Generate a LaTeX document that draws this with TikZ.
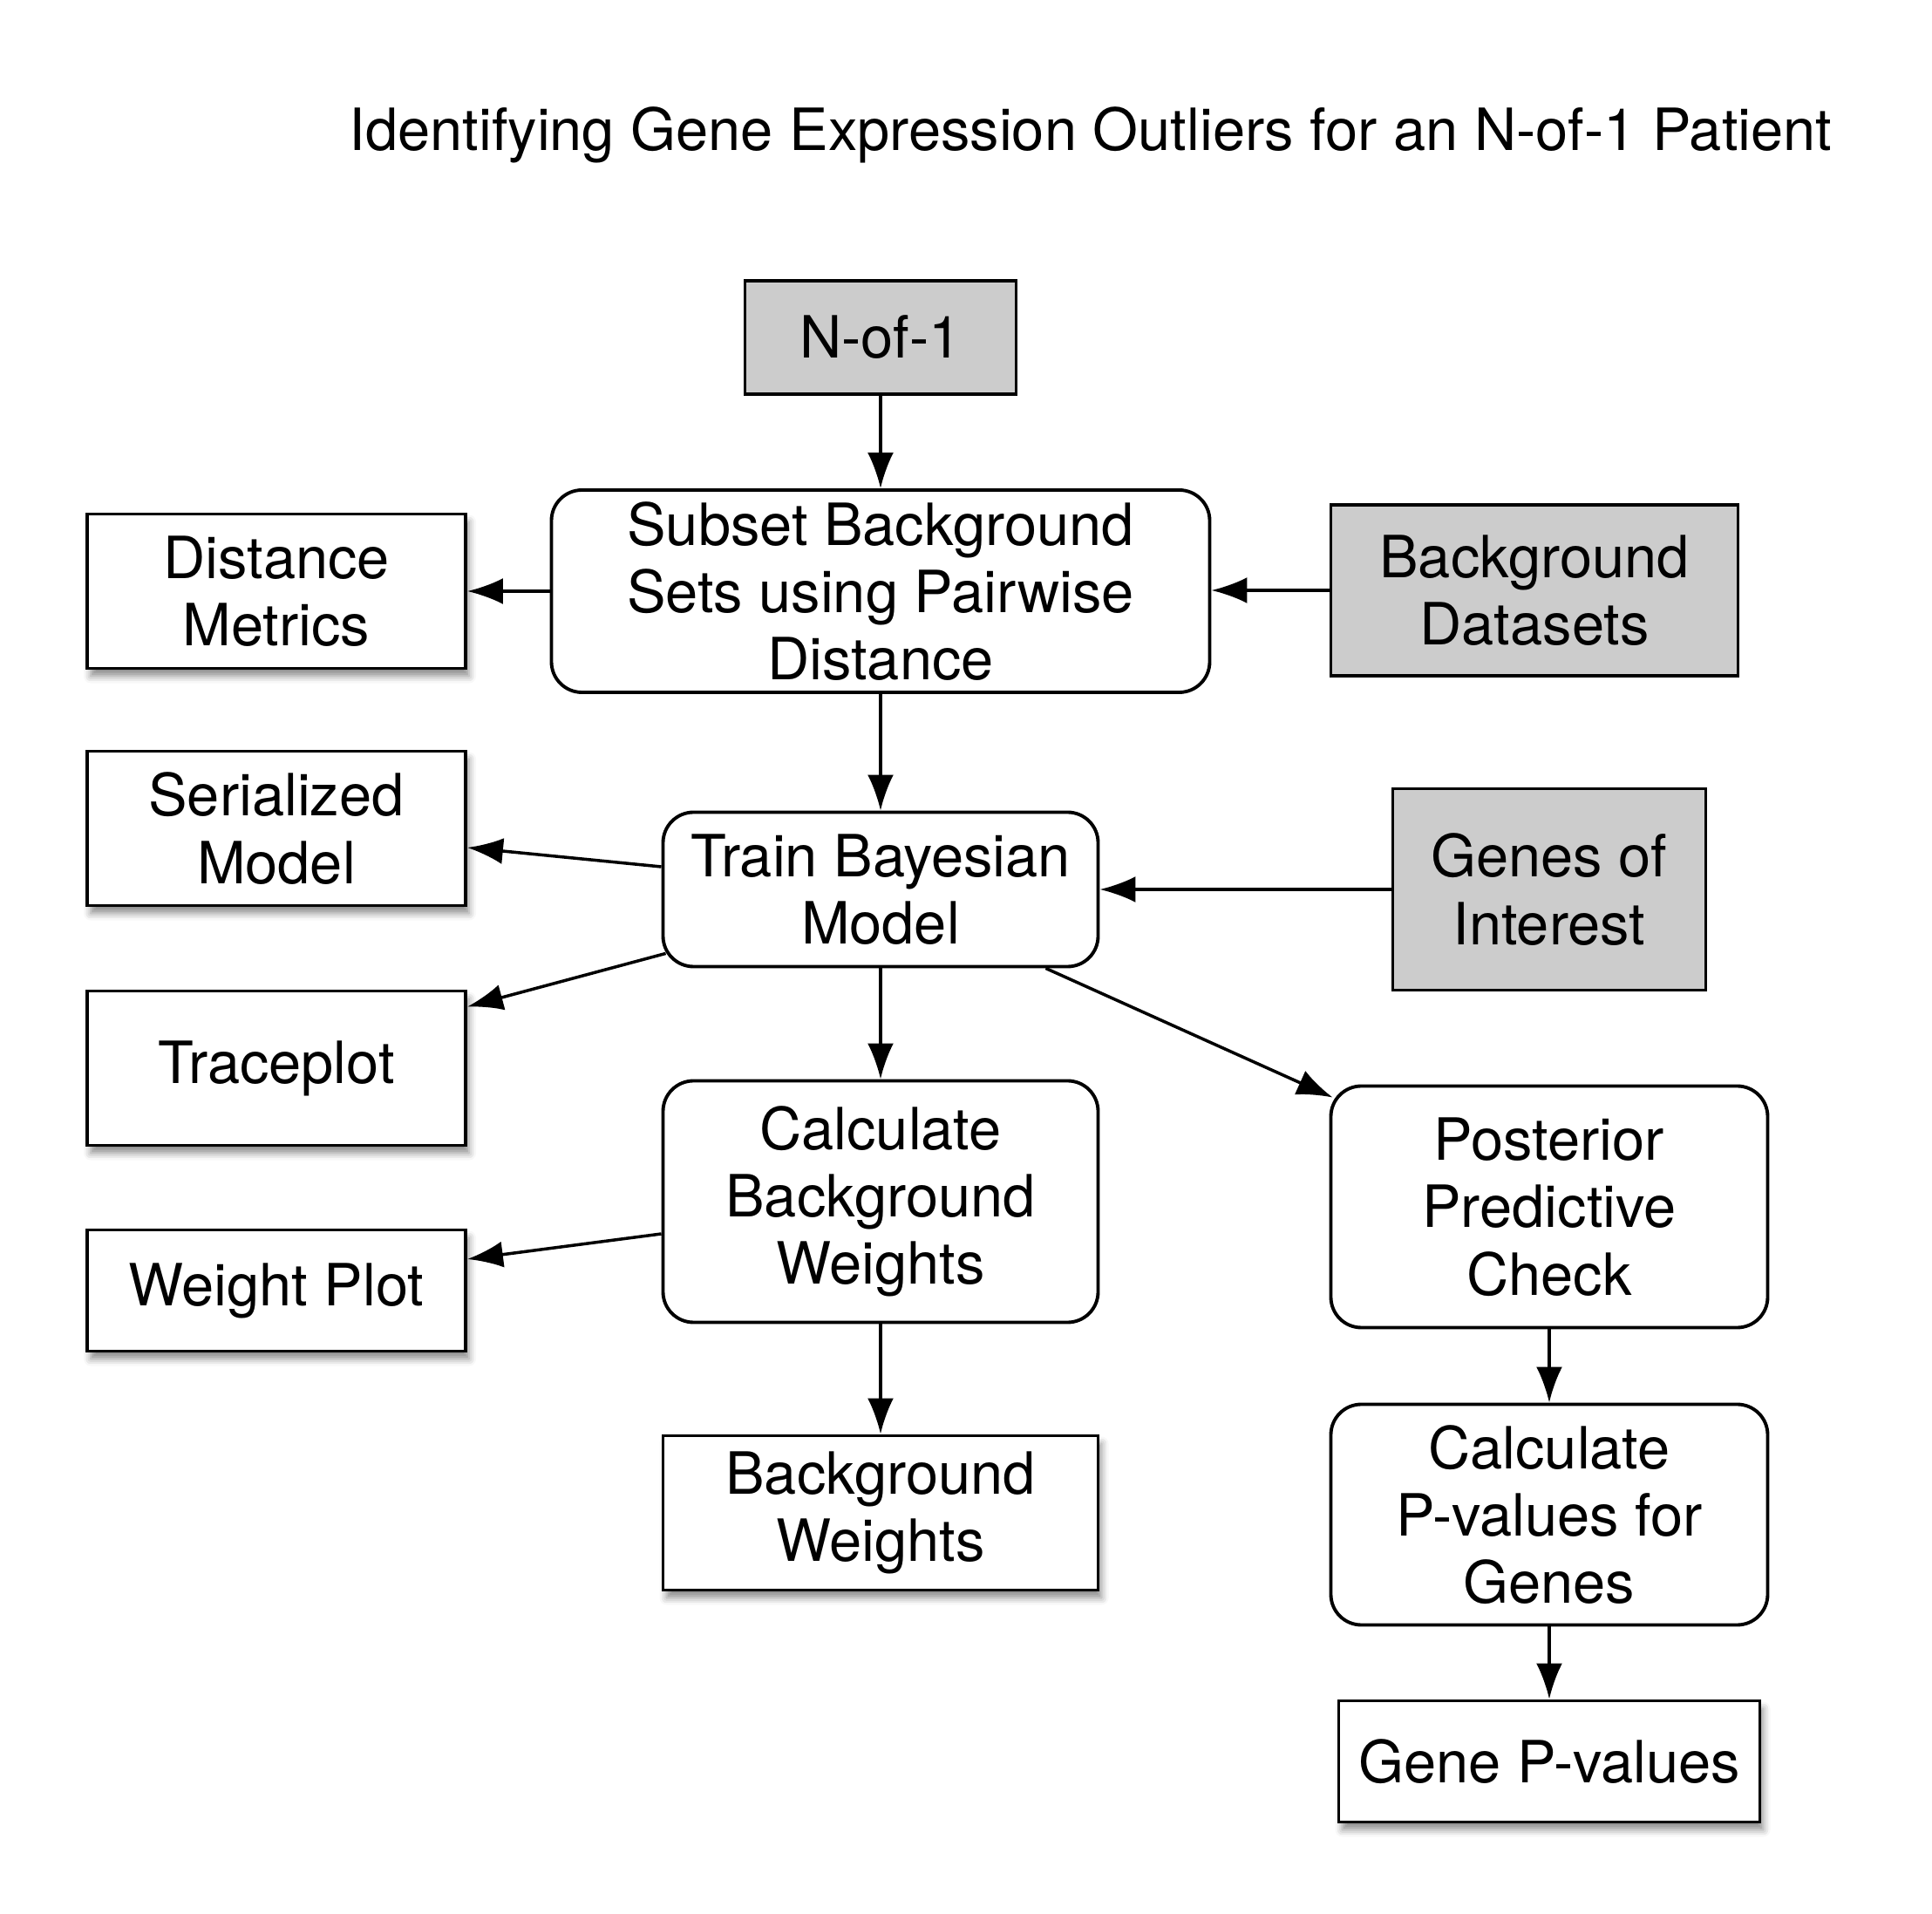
\documentclass[tikz,border=0pt]{standalone}
\usepackage{fontspec}
\setmainfont{TeX Gyre Heros}
\usepackage{tikz}
\usetikzlibrary{arrows.meta,calc,shadows.blur}
\definecolor{inputgray}{HTML}{CCCCCC}

\begin{document}
\begin{tikzpicture}[every node/.style={align=center,font=\fontsize{19}{22}\selectfont},
  basebox/.style={draw=black, line width=1.1pt, inner sep=0pt},
  databox/.style={basebox, fill=inputgray},
  stepbox/.style={basebox, fill=white, rounded corners=3.5mm},
  outbox/.style={basebox, fill=white, blur shadow={shadow xshift=0.4mm, shadow yshift=-0.9mm, shadow blur radius=0.8mm, shadow opacity=45}},
  flow/.style={-{Latex[length=4.1mm,width=3mm]}, line width=1pt}]
  \useasboundingbox (0,0) rectangle (22.16,-21.95);

  \node (title) at (12.51,-1.55) {Identifying Gene Expression Outliers for an N-of-1 Patient};

  % inputs
  \node[databox, minimum width=3.11cm, minimum height=1.30cm] (nof1) at (10.10,-3.87) {N-of-1};
  \node[databox, minimum width=4.67cm, minimum height=1.96cm] (bgdata) at (17.60,-6.77) {Background\\Datasets};
  \node[databox, minimum width=3.59cm, minimum height=2.31cm] (genes) at (17.77,-10.20) {Genes of\\Interest};

  % processing steps
  \node[stepbox, minimum width=7.55cm, minimum height=2.32cm] (subset) at (10.10,-6.78) {Subset Background\\Sets using Pairwise\\Distance};
  \node[stepbox, minimum width=4.99cm, minimum height=1.77cm] (train) at (10.10,-10.20) {Train Bayesian\\Model};
  \node[stepbox, minimum width=4.99cm, minimum height=2.77cm] (calcbw) at (10.10,-13.78) {Calculate\\Background\\Weights};
  \node[stepbox, minimum width=5.01cm, minimum height=2.77cm] (ppc) at (17.77,-13.84) {Posterior\\Predictive\\Check};
  \node[stepbox, minimum width=5.01cm, minimum height=2.53cm] (calcp) at (17.77,-17.37) {Calculate\\P-values for\\Genes};

  % outputs
  \node[outbox, minimum width=4.34cm, minimum height=1.77cm] (distm) at (3.17,-6.78) {Distance\\Metrics};
  \node[outbox, minimum width=4.34cm, minimum height=1.77cm] (sermod) at (3.17,-9.50) {Serialized\\Model};
  \node[outbox, minimum width=4.34cm, minimum height=1.77cm] (trace) at (3.17,-12.25) {Traceplot};
  \node[outbox, minimum width=4.34cm, minimum height=1.39cm] (wplot) at (3.17,-14.80) {Weight Plot};
  \node[outbox, minimum width=4.99cm, minimum height=1.77cm] (bgw) at (10.10,-17.35) {Background\\Weights};
  \node[outbox, minimum width=4.83cm, minimum height=1.39cm] (genep) at (17.77,-20.20) {Gene P-values};

  % connectors
  \draw[flow] (nof1) -- (subset);
  \draw[flow] (bgdata) -- (subset.east |- bgdata);
  \draw[flow] (subset.west |- distm) -- (distm);
  \draw[flow] (subset) -- (train);
  \draw[flow] (genes) -- (train);
  \draw[flow] ($(train.west)+(0,0.26)$) -- ($(sermod.east)+(0,-0.22)$);
  \draw[flow] ($(train.south west)+(0.05,0.17)$) -- ($(trace.north east)+(0,-0.20)$);
  \draw[flow] ($(train.south east)+(-0.62,0)$) -- ($(ppc.north west)+(0.04,-0.15)$);
  \draw[flow] (train) -- (calcbw);
  \draw[flow] ($(calcbw.west)+(0,-0.37)$) -- ($(wplot.east)+(0,0.36)$);
  \draw[flow] (calcbw) -- (bgw);
  \draw[flow] (ppc) -- (calcp);
  \draw[flow] (calcp) -- (genep);
\end{tikzpicture}
\end{document}
